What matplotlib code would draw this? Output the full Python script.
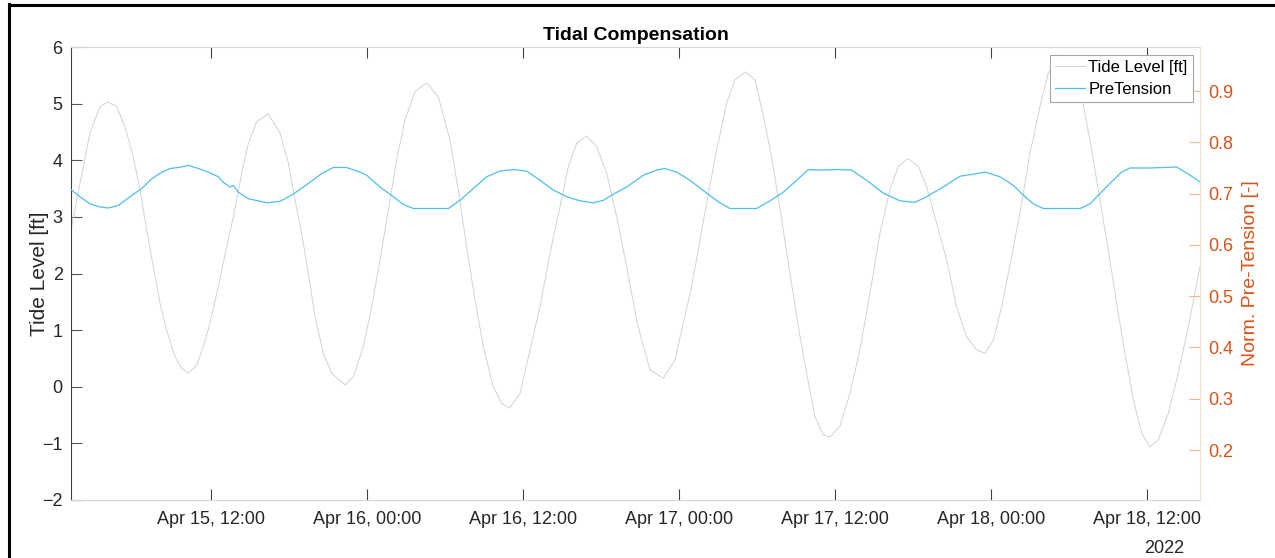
"""Tidal compensation: tide level vs normalised pre-tension (Apr 2022)."""

import matplotlib
matplotlib.use("Agg")
import matplotlib.pyplot as plt
import matplotlib.dates as mdates
from matplotlib.lines import Line2D
import pandas as pd

# hours since 2022-04-15 00:00
tide_hours = [
    1.23, 1.92, 2.69, 3.46, 4.10, 4.74, 5.38, 6.02, 6.54, 7.05, 7.56, 8.08, 8.59,
    9.23, 9.74, 10.26, 10.90, 11.41, 11.92, 12.56, 13.21, 13.72, 14.36, 14.87,
    15.51, 16.41, 17.31, 17.95, 18.46, 18.97, 19.49, 20.00, 20.64, 21.28, 22.31,
    22.95, 23.72, 24.36, 25.00, 25.64, 26.28, 26.92, 27.69, 28.59, 29.49, 30.38,
    31.02, 31.67, 32.31, 32.95, 33.72, 34.36, 34.95, 35.77, 36.54, 37.31, 38.08,
    38.85, 39.49, 40.13, 40.90, 41.67, 42.44, 43.21, 43.97, 44.74, 45.00, 45.77,
    46.79, 47.69, 48.33, 48.97, 49.62, 50.26, 50.90, 51.67, 52.31, 53.08, 53.85,
    54.62, 55.25, 55.90, 56.54, 57.18, 57.82, 58.46, 59.10, 59.62, 60.38, 61.15,
    61.92, 62.69, 63.46, 64.23, 64.87, 65.64, 66.41, 67.05, 67.82, 68.59, 69.36,
    70.13, 70.90, 71.54, 72.18, 72.82, 73.46, 74.23, 75.00, 75.77, 76.41, 77.31,
    78.21, 78.98, 79.75, 80.38, 81.02, 81.67, 82.31, 82.95, 83.59, 84.23, 84.87,
    85.64, 86.41, 87.18, 88.08,
]
tide_ft = [
    2.77, 3.59, 4.48, 4.95, 5.03, 4.95, 4.59, 4.06, 3.48, 2.77, 2.12, 1.47, 1.00,
    0.53, 0.33, 0.24, 0.38, 0.71, 1.12, 1.77, 2.47, 3.00, 3.77, 4.30,
    4.68, 4.82, 4.48, 3.95, 3.30, 2.71, 2.00, 1.24, 0.59, 0.24, 0.03,
    0.18, 0.71, 1.41, 2.24, 3.12, 4.00, 4.71, 5.21, 5.37, 5.12, 4.36,
    3.48, 2.47, 1.53, 0.71, 0.00, -0.29, -0.38, -0.12, 0.65, 1.41, 2.36,
    3.18, 3.89, 4.30, 4.43, 4.24, 3.77, 3.00, 2.12, 1.18, 0.94, 0.30,
    0.15, 0.47, 1.12, 1.77, 2.59, 3.42, 4.18, 5.01, 5.42, 5.56, 5.42,
    4.65, 3.89, 2.95, 2.00, 1.06, 0.24, -0.53, -0.85, -0.89, -0.70, -0.12,
    0.65, 1.65, 2.71, 3.48, 3.89, 4.03, 3.89, 3.53, 2.89, 2.24, 1.41,
    0.88, 0.65, 0.59, 0.82, 1.41, 2.15, 3.06, 4.12, 4.95, 5.54, 5.86,
    5.65, 5.12, 4.18, 3.30, 2.42, 1.47, 0.59, -0.23, -0.82, -1.06, -0.94,
    -0.47, 0.24, 1.06, 2.12,
]

tension_hours = [
    1.23, 1.92, 2.69, 3.46, 4.10, 4.87, 5.77, 6.67, 7.44, 8.21, 8.85, 9.49, 10.26,
    11.03, 11.79, 12.56, 12.95, 13.47, 13.72, 14.10, 14.87, 15.64, 16.28, 17.31,
    18.33, 19.49, 20.51, 21.41, 22.44, 23.46, 23.97, 25.00, 26.03, 26.79, 27.56,
    30.26, 31.15, 32.18, 33.21, 34.23, 35.26, 36.28, 37.31, 38.33, 39.36, 40.38,
    41.41, 42.18, 42.95, 43.97, 45.00, 45.26, 46.28, 46.92, 47.82, 48.85, 50.13,
    51.03, 51.92, 53.97, 55.00, 56.03, 57.05, 57.95, 58.85, 60.38, 61.28, 62.44,
    63.72, 65.00, 66.15, 67.05, 68.33, 69.62, 70.90, 71.54, 72.69, 73.72, 74.49,
    75.26, 76.03, 78.85, 79.62, 80.38, 81.15, 82.05, 82.69, 84.23, 86.28, 87.31,
    88.08,
]
tension_norm = [
    0.708, 0.694, 0.680, 0.674, 0.672, 0.677, 0.694, 0.710, 0.729, 0.742, 0.749, 0.751, 0.755,
    0.749, 0.742, 0.733, 0.722, 0.713, 0.716, 0.703, 0.690, 0.686, 0.682, 0.685,
    0.699, 0.720, 0.739, 0.751, 0.751, 0.742, 0.736, 0.713, 0.694, 0.679, 0.671,
    0.671, 0.687, 0.710, 0.733, 0.744, 0.747, 0.744, 0.726, 0.707, 0.694, 0.686,
    0.682, 0.687, 0.699, 0.713, 0.731, 0.736, 0.746, 0.749, 0.742, 0.726, 0.701,
    0.684, 0.671, 0.671, 0.686, 0.703, 0.726, 0.747, 0.746, 0.747, 0.746, 0.726,
    0.701, 0.686, 0.683, 0.694, 0.713, 0.734, 0.739, 0.742, 0.733, 0.716, 0.697,
    0.680, 0.671, 0.671, 0.680, 0.700, 0.720, 0.742, 0.750, 0.750, 0.752, 0.736,
    0.723,
]

START = pd.Timestamp("2022-04-15 00:00")
LEFT_TICKS = [-2, -1, 0, 1, 2, 3, 4, 5, 6]
RIGHT_TICKS = [0.2, 0.3, 0.4, 0.5, 0.6, 0.7, 0.8, 0.9]

ORANGE = "#d95319"
CYAN = "#4dbeee"
TXT = "#262626"


def to_time(hours):
    return START + pd.to_timedelta(hours, unit="h")


def main():
    plt.rcParams["font.family"] = ["Liberation Sans", "DejaVu Sans"]
    fig = plt.figure(figsize=(12.75, 5.58), dpi=100, facecolor="white")
    ax = fig.add_axes([71 / 1275, 1 - 500 / 558, 1129 / 1275, 453 / 558])
    ax2 = ax.twinx()

    l1, = ax.plot(to_time(tide_hours), tide_ft, color="#d2d2d2", lw=0.7,
                  label="Tide Level [ft]")
    l2, = ax2.plot(to_time(tension_hours), tension_norm, color=CYAN, lw=0.9,
                   label="PreTension")

    ax.set_xlim(to_time(1.23), to_time(88.08))
    ax.set_ylim(-2, 6)
    ax.set_yticks(LEFT_TICKS)
    ax2.set_ylim(0.1025, 0.986)
    ax2.set_yticks(RIGHT_TICKS)
    ax2.set_yticklabels([f"{t:.1f}" for t in RIGHT_TICKS])

    ax.xaxis.set_major_locator(mdates.HourLocator(byhour=[0, 12]))
    ax.xaxis.set_major_formatter(mdates.DateFormatter("%b %d, %H:%M"))

    ax.tick_params(axis="x", direction="in", length=8, width=0.8, colors="#404040",
                   labelcolor=TXT, labelsize=13, pad=8, top=True)
    ax.tick_params(axis="y", direction="in", length=8, width=0.8, colors="#555555",
                   labelcolor=TXT, labelsize=13, pad=6)
    ax2.tick_params(axis="y", direction="in", length=8, width=0.8, colors="#f3b49a",
                    labelcolor=ORANGE, labelsize=13, pad=6)

    for spine in ("top", "bottom"):
        ax.spines[spine].set_color("#d4d4d4")
        ax2.spines[spine].set_visible(False)
    ax.spines["left"].set_color("#404040")
    ax.spines["right"].set_visible(False)
    ax2.spines["left"].set_visible(False)
    ax2.spines["right"].set_color("#fadccf")

    ax.set_ylabel("Tide Level [ft]", fontsize=15, color=TXT, labelpad=-5)
    ax2.set_ylabel("Norm. Pre-Tension [-]", fontsize=14, color=ORANGE, labelpad=6)
    ax.set_title("Tidal Compensation", fontsize=14, fontweight="bold", color="black", pad=5)
    ax.text(0.986, -0.088, "2022", transform=ax.transAxes, ha="right", va="top",
            fontsize=13, color=TXT)

    leg = ax2.legend([l1, l2], ["Tide Level [ft]", "PreTension"], loc="upper right",
                     fontsize=12, frameon=True, fancybox=False, framealpha=1,
                     edgecolor="#a6a6a6", handlelength=1.8, handletextpad=0.2,
                     borderpad=0.3, labelspacing=0.45, borderaxespad=0.45)
    leg.get_frame().set_linewidth(0.8)

    # outer frame of the exported figure window (left and top edges)
    fig.add_artist(Line2D([8.5 / 1275, 8.5 / 1275], [0, 1 - 4 / 558], color="black", lw=2.2))
    fig.add_artist(Line2D([8.5 / 1275, 1], [1 - 5 / 558, 1 - 5 / 558], color="black", lw=2.2))

    fig.savefig("out.png", dpi=100)


if __name__ == "__main__":
    main()
